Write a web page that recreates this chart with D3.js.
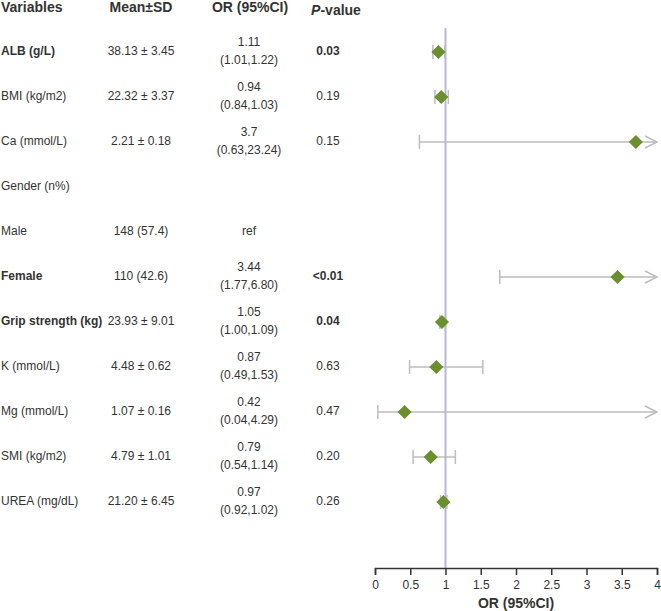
<!DOCTYPE html>
<html>
<head>
<meta charset="utf-8">
<script src="https://cdn.jsdelivr.net/npm/d3@7"></script>
<style>
  body { margin: 0; background: #fff; }
  text { font-family: "Liberation Sans", Arial, sans-serif; fill: #333; }
</style>
</head>
<body>
<svg id="forest"></svg>
<script>
// forest plot: table on the left, OR markers on the right

const variables = ["ALB (g/L)", "BMI (kg/m2)", "Ca (mmol/L)", "Gender (n%)", "Male", "Female",
    "Grip strength (kg)", "K (mmol/L)", "Mg (mmol/L)", "SMI (kg/m2)", "UREA (mg/dL)"];
const boldRows = ["ALB (g/L)", "Female", "Grip strength (kg)"];
const meanSd = ["38.13 ± 3.45", "22.32 ± 3.37", "2.21 ± 0.18", "", "148 (57.4)", "110 (42.6)",
    "23.93 ± 9.01", "4.48 ± 0.62", "1.07 ± 0.16", "4.79 ± 1.01", "21.20 ± 6.45"];
const orText = ["1.11", "0.94", "3.7", "", "ref", "3.44", "1.05", "0.87", "0.42", "0.79", "0.97"];
const ciText = ["(1.01,1.22)", "(0.84,1.03)", "(0.63,23.24)", "", "", "(1.77,6.80)",
    "(1.00,1.09)", "(0.49,1.53)", "(0.04,4.29)", "(0.54,1.14)", "(0.92,1.02)"];
const pText = ["0.03", "0.19", "0.15", "", "", "<0.01", "0.04", "0.63", "0.47", "0.20", "0.26"];

// values as drawn in the plot (null = no marker)
const orPlot = [0.90, 0.94, 3.70, null, null, 3.44, 0.95, 0.87, 0.42, 0.79, 0.97];
const ciLow = [0.82, 0.85, 0.63, null, null, 1.77, 0.92, 0.49, 0.04, 0.54, 0.93];
const ciHigh = [0.99, 1.04, 23.24, null, null, 6.80, 1.00, 1.53, 4.29, 1.14, 1.02];

const xTicks = [0, 0.5, 1, 1.5, 2, 2.5, 3, 3.5, 4];

const width = 661, height = 611;
const svg = d3.select("#forest").attr("width", width).attr("height", height);

const x = d3.scaleLinear().domain([0, 4]).range([375, 657]);
const y = d3.scalePoint().domain(variables).range([52, 502]);
const axisY = 568;

const rows = variables.map((v, i) => ({
    name: v, mean: meanSd[i], or: orText[i], ci: ciText[i], p: pText[i],
    val: orPlot[i], lo: ciLow[i], hi: ciHigh[i], bold: boldRows.includes(v)
}));

// headers
const head = svg.append("g").attr("font-size", 14).attr("font-weight", "bold");
head.append("text").attr("x", 1).attr("y", 8).attr("dominant-baseline", "middle").text("Variables");
head.append("text").attr("x", 141).attr("y", 8).attr("text-anchor", "middle")
    .attr("dominant-baseline", "middle").text("Mean±SD");
head.append("text").attr("x", 250).attr("y", 8).attr("text-anchor", "middle")
    .attr("dominant-baseline", "middle").text("OR (95%CI)");
const ph = head.append("text").attr("x", 336).attr("y", 11).attr("text-anchor", "middle")
    .attr("dominant-baseline", "middle");
ph.append("tspan").attr("font-style", "italic").text("P");
ph.append("tspan").text("-value");

// table rows
const tbl = svg.append("g").attr("font-size", 12);
const rowG = tbl.selectAll("g.row").data(rows).join("g")
    .attr("class", "row")
    .attr("transform", d => `translate(0,${y(d.name)})`);

rowG.append("text").attr("x", 1).attr("dominant-baseline", "middle")
    .attr("font-weight", d => d.bold ? "bold" : "normal").text(d => d.name);
rowG.append("text").attr("x", 141).attr("text-anchor", "middle").attr("dominant-baseline", "middle")
    .text(d => d.mean);
rowG.append("text").attr("x", 249).attr("text-anchor", "middle").attr("dominant-baseline", "middle")
    .attr("y", d => d.ci ? -9 : 0).text(d => d.or);
rowG.append("text").attr("x", 249).attr("text-anchor", "middle").attr("dominant-baseline", "middle")
    .attr("y", 9).text(d => d.ci);
rowG.append("text").attr("x", 328).attr("text-anchor", "middle").attr("dominant-baseline", "middle")
    .attr("font-weight", d => d.bold ? "bold" : "normal").text(d => d.p);

// reference line at OR = 1
svg.append("line")
    .attr("x1", x(1)).attr("x2", x(1))
    .attr("y1", 28).attr("y2", axisY)
    .attr("stroke", "#b9b7d9").attr("stroke-width", 2);

// confidence intervals
const plotRows = rows.filter(d => d.val !== null);
const ci = svg.append("g").attr("stroke", "#bdbdbd").attr("stroke-width", 1.5).attr("fill", "none");
const maxX = x.domain()[1];
plotRows.forEach(d => {
    const yy = y(d.name);
    const x1 = x(d.lo), x2 = x(Math.min(d.hi, maxX));
    ci.append("line").attr("x1", x1).attr("x2", x2).attr("y1", yy).attr("y2", yy);
    ci.append("line").attr("x1", x1).attr("x2", x1).attr("y1", yy - 7).attr("y2", yy + 7);
    if (d.hi > maxX) {
        ci.append("path").attr("d", `M${x2 - 12},${yy - 6}L${x2},${yy}L${x2 - 12},${yy + 6}`);
    } else {
        ci.append("line").attr("x1", x2).attr("x2", x2).attr("y1", yy - 7).attr("y2", yy + 7);
    }
});

// diamonds
svg.append("g").selectAll("path").data(plotRows).join("path")
    .attr("d", d3.symbol().type(d3.symbolSquare).size(100))
    .attr("transform", d => `translate(${x(d.val)},${y(d.name)}) rotate(45)`)
    .attr("fill", "#6b8e2f");

// x axis
const ax = svg.append("g")
    .attr("transform", `translate(0,${axisY})`)
    .call(d3.axisBottom(x).tickValues(xTicks).tickFormat(d3.format("")).tickSizeOuter(0).tickSize(7));
ax.select(".domain").attr("stroke", "#333").attr("stroke-width", 1.5);
ax.selectAll(".tick line").attr("stroke", "#333").attr("stroke-width", 1.5);
ax.selectAll(".tick text").attr("font-size", 12).attr("fill", "#333")
    .attr("font-family", "Liberation Sans, Arial, sans-serif").attr("y", 12);

svg.append("text")
    .attr("x", x(2)).attr("y", 604)
    .attr("text-anchor", "middle").attr("dominant-baseline", "middle")
    .attr("font-size", 14).attr("font-weight", "bold")
    .text("OR (95%CI)");
</script>
</body>
</html>
